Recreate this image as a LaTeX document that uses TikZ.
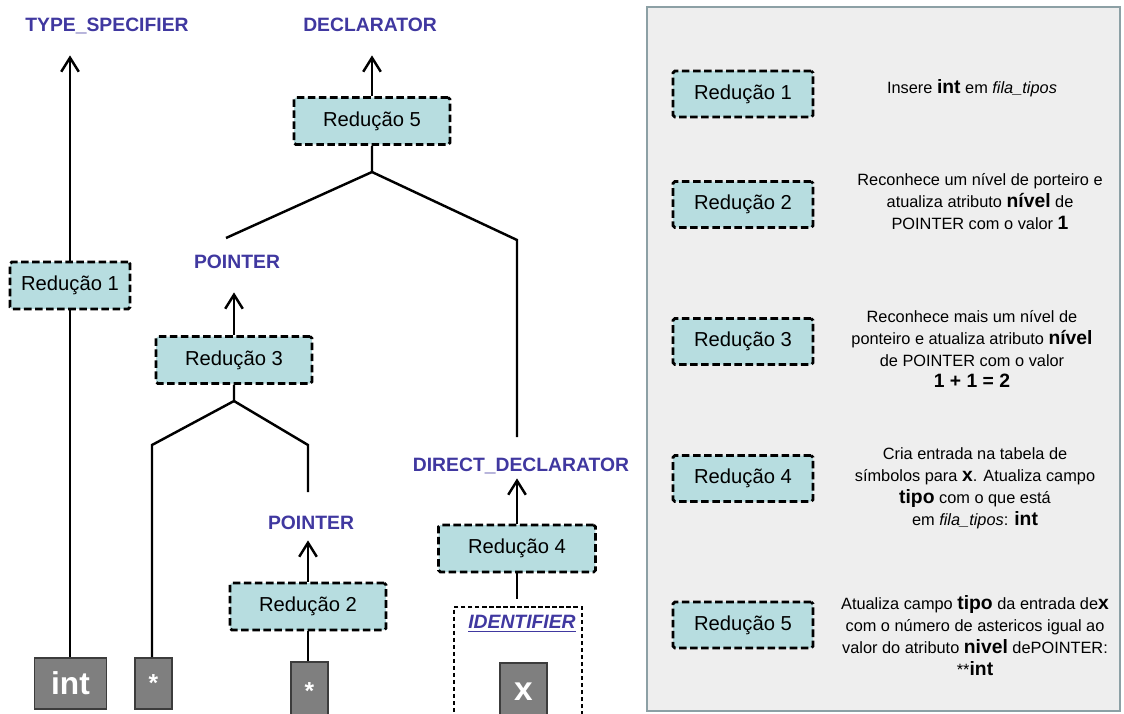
\documentclass[tikz,border=0pt]{standalone}
\usepackage{fontspec}
\setmainfont{Liberation Sans}
\usetikzlibrary{arrows.meta,calc}
\definecolor{lblcol}{RGB}{64,56,160}
\definecolor{redfill}{RGB}{183,221,224}
\definecolor{tokfill}{RGB}{127,127,127}
\definecolor{tokedge}{RGB}{60,60,60}
\definecolor{panelfill}{RGB}{238,238,238}
\definecolor{paneledge}{RGB}{140,160,165}
\newcommand{\bigb}[1]{{\fontsize{11}{12.5}\selectfont\bfseries #1}}

\begin{document}
\begin{tikzpicture}[x=0.02cm, y=-0.02cm,
  redbox/.style={draw=black, line width=1.6pt, dash pattern=on 4.3pt off 2pt,
    rounded corners=1pt, fill=redfill, inner sep=0, minimum width=3.12cm,
    minimum height=0.94cm, font=\fontsize{11.5}{13}\selectfont},
  tok/.style={draw=tokedge, line width=0.9pt, fill=tokfill, text=white, inner sep=0},
  lbl/.style={text=lblcol, inner sep=0, text height=8pt, text depth=0pt,
    font=\fontsize{11}{13}\selectfont\bfseries},
  link/.style={line width=1.4pt},
  arr/.style={line width=1.4pt, -{Straight Barb[length=8pt,width=10pt]}},
  desc/.style={align=center, inner sep=0, font=\fontsize{9.3}{12.5}\selectfont},
]
\useasboundingbox (0,0) rectangle (1124,713);
\fill[white] (0,0) rectangle (1124,713);

% grammar symbols
\node[lbl] (ts)   at (107,24)  {TYPE\_SPECIFIER};
\node[lbl] (decl) at (370,24)  {DECLARATOR};
\node[lbl] (ptrA) at (237,261) {POINTER};
\node[lbl] (ptrB) at (311,522) {POINTER};
\node[lbl] (dd)   at (521,464) {DIRECT\_DECLARATOR};

% reductions in the parse tree
\node[redbox, minimum width=2.4cm] (r1) at (70,285.5) {Redução 1};
\node[redbox] (r3) at (234,360)   {Redução 3};
\node[redbox] (r2) at (308,606.5) {Redução 2};
\node[redbox] (r5) at (372,121)   {Redução 5};
\node[redbox, minimum width=3.14cm] (r4) at (517,548.5) {Redução 4};

% input tokens
\node[tok, minimum width=1.44cm, minimum height=1.02cm,
  font=\fontsize{18}{20}\selectfont\bfseries] (tint) at (70.5,683.5) {int};
\node[tok, minimum width=0.74cm, minimum height=1.02cm,
  font=\fontsize{14}{16}\selectfont\bfseries] (tstarA) at (153.5,683.5) {*};
\node[tok, minimum width=0.74cm, minimum height=1.16cm,
  font=\fontsize{14}{16}\selectfont\bfseries] (tstarB) at (309.5,691) {*};
\node[draw=black, line width=0.6pt, dash pattern=on 2.5pt off 1.5pt,
  minimum width=2.56cm, minimum height=2.7cm, inner sep=0] (idbox) at (518,674.5) {};
\node[text=lblcol, inner sep=0, font=\fontsize{11}{13}\selectfont\bfseries\itshape]
  (ident) at (522,624) {\underline{IDENTIFIER}};
\node[tok, minimum width=0.94cm, minimum height=1.16cm,
  font=\fontsize{19}{21}\selectfont\bfseries] (tx) at (523.5,692) {x};

% connectors of the tree
\coordinate (j5)  at (372,172);
\coordinate (e5a) at (226,238);
\coordinate (k5b) at (517,240);
\coordinate (e5b) at (517,437);
\coordinate (j3)  at (234,401);
\coordinate (k3a) at (152,445);
\coordinate (k3b) at (308,445);
\coordinate (e3b) at (308,492);

\draw[arr, shorten >=0.48cm] (r1.north) -- (r1.north |- ts.south);
\draw[link] (r1.south) -- (r1.south |- tint.north);

\draw[arr, shorten >=0.48cm] (r5.north) -- (r5.north |- decl.south);
\draw[link] (r5.south) -- (j5) -- (e5a);
\draw[link] (j5) -- (k5b) -- (e5b);

\draw[arr, shorten >=0.48cm] (r3.north) -- (r3.north |- ptrA.south);
\draw[link] (r3.south) -- (j3) -- (k3a) -- (k3a |- tstarA.north);
\draw[link] (j3) -- (k3b) -- (e3b);

\draw[arr, shorten >=0.22cm] (r2.north) -- (r2.north |- ptrB.south);
\draw[link] (r2.south) -- (r2.south |- tstarB.north);

\draw[arr, shorten >=0.14cm] (r4.north) -- (r4.north |- dd.south);
\draw[link, shorten >=0.14cm] (r4.south) -- (r4.south |- idbox.north);

% legend panel
\node[draw=paneledge, line width=1.2pt, fill=panelfill, minimum width=9.46cm,
  minimum height=14.08cm, inner sep=0] (legend) at (883.5,359) {};

\node[redbox, minimum width=2.8cm, minimum height=0.92cm] (l1) at (743,94)    {Redução 1};
\node[redbox, minimum width=2.8cm, minimum height=0.92cm] (l2) at (743,204.5) {Redução 2};
\node[redbox, minimum width=2.8cm, minimum height=0.92cm] (l3) at (743,341.5) {Redução 3};
\node[redbox, minimum width=2.8cm, minimum height=0.92cm] (l4) at (743,478.5) {Redução 4};
\node[redbox, minimum width=2.8cm, minimum height=0.92cm] (l5) at (743,625)   {Redução 5};

\node[desc] (d1) at (972,88) {Insere \bigb{int} em \textit{fila\_tipos}};
\node[desc] (d2) at (980,201.5) {Reconhece um nível de porteiro e\\
  atualiza atributo \bigb{nível} de\\
  POINTER com o valor \bigb{1}};
\node[desc] (d3) at (972,349) {Reconhece mais um nível de\\
  ponteiro e atualiza atributo \bigb{nível}\\
  de POINTER com o valor\\
  \bigb{1 + 1 = 2}};
\node[desc] (d4) at (975,488) {Cria entrada na tabela de\\
  símbolos para \bigb{x}. Atualiza campo\\
  \bigb{tipo} com o que está\\
  em \textit{fila\_tipos}: \bigb{int}};
\node[desc] (d5) at (975,636) {Atualiza campo \bigb{tipo} da entrada de\bigb{x}\\
  com o número de astericos igual ao\\
  valor do atributo \bigb{nivel} dePOINTER:\\
  **\bigb{int}};
\end{tikzpicture}
\end{document}
